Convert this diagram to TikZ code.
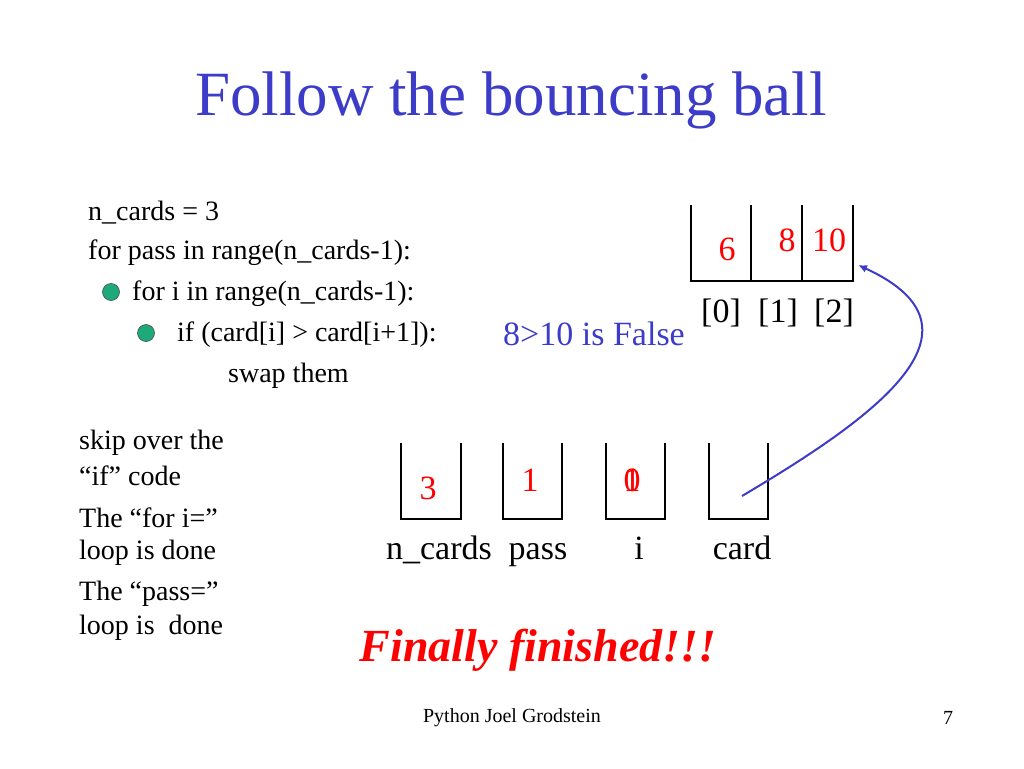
\documentclass[tikz,border=0pt]{standalone}
\usepackage{fontspec}
\usetikzlibrary{arrows.meta}
\setmainfont{Liberation Serif}
\definecolor{tblue}{RGB}{60,60,200}
\definecolor{bgreen}{RGB}{30,170,120}
\begin{document}
\begin{tikzpicture}[x=1pt,y=-1pt,
  txt/.style={anchor=west,inner sep=0pt,font=\fontsize{28}{30}\selectfont},
  red/.style={text=red,inner sep=0pt,font=\fontsize{34}{36}\selectfont},
  lbl/.style={inner sep=0pt,font=\fontsize{34}{36}\selectfont},
  cup/.style={line width=2.4pt},
  bul/.style={circle,draw=black!70,fill=bgreen,minimum size=17pt,inner sep=0pt,line width=0.6pt}]
\useasboundingbox (0,0) rectangle (1024,768);
\node[inner sep=0pt,text=tblue,font=\fontsize{63}{66}\selectfont] (title) at (511,100) {Follow the bouncing ball};
\node[txt] (l1) at (88,213) {n\_cards = 3};
\node[txt] (l2) at (88,253) {for pass in range(n\_cards-1):};
\node[bul] (b1) at (111,292) {};
\node[txt] (l3) at (132,294) {for i in range(n\_cards-1):};
\node[bul] (b2) at (146,333) {};
\node[txt] (l4) at (177,335) {if (card[i] > card[i+1]):};
\node[txt] (l5) at (228,376) {swap them};
\node[lbl,text=tblue,anchor=west] (cmp) at (503,334) {8>10 is False};
\node[txt] (s1) at (79,443) {skip over the};
\node[txt] (s2) at (79,476) {“if” code};
\node[txt] (s3) at (79,518) {The “for i=”};
\node[txt] (s4) at (79,553) {loop is done};
\node[txt] (s5) at (79,594) {The “pass=”};
\node[txt] (s6) at (79,628) {loop is\ \ done};
% array
\draw[cup] (691,205) -- (691,281) -- (853,281) -- (853,205);
\draw[cup] (751,205) -- (751,281);
\draw[cup] (802,205) -- (802,281);
\node[red] (v0) at (727,249) {6};
\node[red] (v1) at (787,240) {8};
\node[red] (v2) at (829,240) {10};
\node[lbl,anchor=base] (i0) at (721,322) {[0]};
\node[lbl,anchor=base] (i1) at (778,322) {[1]};
\node[lbl,anchor=base] (i2) at (834,322) {[2]};
% variables
\foreach \a/\b/\n in {401/461/c1,503/562/c2,606/665/c3,709/768/c4}{
  \draw[cup] (\a,443) -- (\a,519) -- (\b,519) -- (\b,443);
  \coordinate (\n) at ({(\a+\b)/2},481);
}
\node[red] (n3) at (428,488) {3};
\node[red] (p1) at (530,480) {1};
\node[red] (iv1) at (632,480) {1};
\node[red] (iv0) at (632,480) {0};
\node[lbl,anchor=base] (ln) at (439,559) {n\_cards};
\node[lbl,anchor=base] (lp) at (538,559) {pass};
\node[lbl,anchor=base] (li) at (639,559) {i};
\node[lbl,anchor=base] (lc) at (742,559) {card};
\coordinate (as) at (742,496);
\coordinate (ae) at (858,265);
\draw[tblue,line width=2pt,-{Latex[length=9pt,width=8pt]}] (as) .. controls (870,420) and (1000,330) .. (ae);
\node[inner sep=0pt,text=red,font=\fontsize{46}{50}\selectfont\bfseries\itshape] (fin) at (538,650) {Finally finished!!!};
\node[inner sep=0pt,font=\fontsize{20}{22}\selectfont] (ft) at (512,718) {Python Joel Grodstein};
\node[inner sep=0pt,font=\fontsize{20}{22}\selectfont] (pg) at (948,718) {7};
\end{tikzpicture}
\end{document}
